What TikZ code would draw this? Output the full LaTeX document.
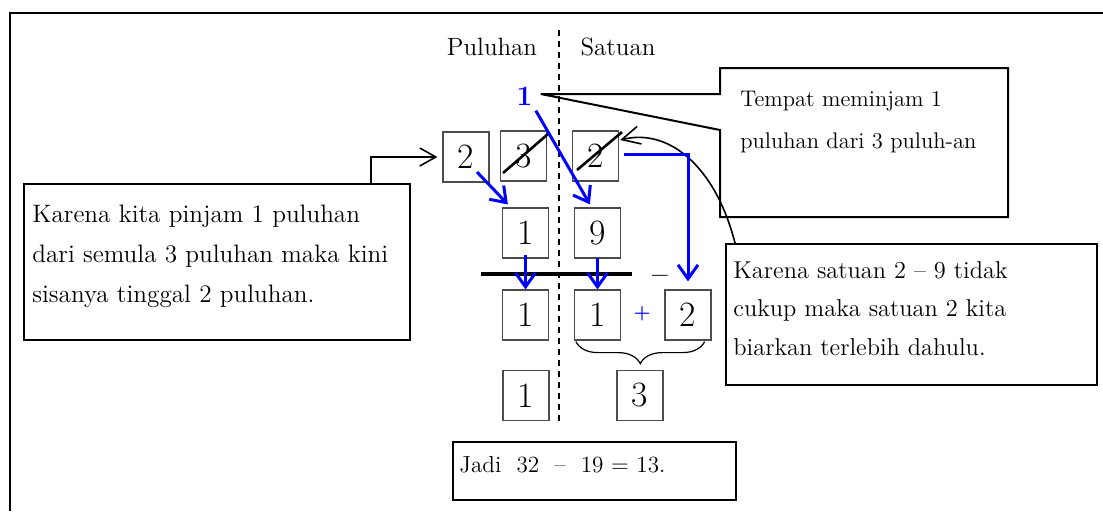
\documentclass[tikz,border=0pt]{standalone}
\usepackage{fontspec}
\usetikzlibrary{arrows.meta,calc,decorations.pathreplacing}

\tikzset{
  digit/.style={draw=black!70,line width=0.6pt,minimum width=23pt,minimum height=25pt,
    inner sep=0pt,font=\fontsize{17.8}{20}\selectfont},
  note/.style={draw,line width=1pt,inner sep=0pt,anchor=north west},
  notetext/.style={anchor=north west,inner sep=0pt,align=left},
  move/.style={blue,line width=1.5pt,-{Straight Barb[length=7pt,width=10pt]}},
  link/.style={line width=0.8pt,-{Straight Barb[length=8pt,width=9pt]}},
  strike/.style={line width=1.3pt},
}

\begin{document}
\begin{tikzpicture}[x=0.5pt,y=-0.5pt]
  \useasboundingbox (0,0) rectangle (1103,511);

  % frame
  \draw[line width=1pt] (9.5,511) -- (9.5,13) -- (1103,13);

  % column heads and divider
  \node[anchor=base,font=\fontsize{12.5}{15}\selectfont] (puluhan) at (492,55) {Puluhan};
  \node[anchor=base,font=\fontsize{12.5}{15}\selectfont] (satuan)  at (618,55) {Satuan};
  \coordinate (divTop) at (559,30);
  \coordinate (divBot) at (559,424);
  \draw[line width=0.6pt,dash pattern=on 3pt off 2.5pt] (divTop) -- (divBot);

  % digits
  \node[digit] (topP2) at (466,157)   {2};
  \node[digit] (topP3) at (523.5,156) {3};
  \node[digit] (topS2) at (595.5,156) {2};
  \node[digit] (midP1) at (525.5,233) {1};
  \node[digit] (midS9) at (597.5,233) {9};
  \node[digit] (resP1) at (525.5,315) {1};
  \node[digit] (resS1) at (597.5,315) {1};
  \node[digit] (resS2) at (688,315)   {2};
  \node[digit] (endP1) at (526,395.5) {1};
  \node[digit] (endS3) at (640,395.5) {3};

  \draw[strike] ([shift={(-20.5,17)}]topP3.center) -- ([shift={(24.5,-22)}]topP3.center);
  \draw[strike] ([shift={(-18.5,14)}]topS2.center) -- ([shift={(26.5,-24)}]topS2.center);

  \node[text=blue,inner sep=0pt,font=\fontsize{14}{16}\selectfont\bfseries] (pinjam) at (524.5,96) {1};
  \node[text=blue,inner sep=0pt,font=\fontsize{9.5}{11}\selectfont\bfseries] (plus) at (642,314) {+};

  % subtraction rule
  \draw[line width=2pt] (481,274) -- (632,274);
  \node[anchor=base,inner sep=0pt,font=\fontsize{14}{16}\selectfont\bfseries] (minus) at (660,283) {–};

  \draw[line width=0.6pt,decorate,decoration={brace,mirror,amplitude=11pt}]
    ([shift={(2,1)}]resS1.south west) -- ([shift={(-7,1)}]resS2.south east);

  % notes
  \node[note,minimum width=193pt,minimum height=78pt] (boxLeft) at (23,183) {};
  \node[notetext,font=\fontsize{12.6}{20}\selectfont] (txtLeft) at (32,204.5)
    {Karena kita pinjam 1 puluhan\\dari semula 3 puluhan maka kini\\sisanya tinggal 2 puluhan.};

  \node[note,minimum width=185.5pt,minimum height=70.5pt] (boxRight) at (725,243) {};
  \node[notetext,font=\fontsize{12.2}{19.25}\selectfont] (txtRight) at (733,261)
    {Karena satuan 2 – 9 tidak\\cukup maka satuan 2 kita\\biarkan terlebih dahulu.};

  \coordinate (tipTempat) at ([shift={(8,-2)}]pinjam.east);
  \draw[line width=1pt] (720,94) -- (720,68) -- (1008,68) -- (1008,217) -- (720,217)
    -- (720,130) -- (tipTempat) -- cycle;
  \node[notetext,font=\fontsize{11.3}{21}\selectfont] (txtTempat) at (740,90.6)
    {Tempat meminjam 1\\puluhan dari 3 puluh-an};

  \node[note,minimum width=141.5pt,minimum height=29pt] (boxJadi) at (452,441) {};
  \node[anchor=base west,inner sep=0pt,font=\fontsize{11.6}{14}\selectfont] (txtJadi) at (459,472)
    {Jadi\ \ 32\ \ –\ \ 19 = 13.};

  % connectors
  \draw[link] ([shift={(-40,0)}]boxLeft.north east) |- ([shift={(-5,0)}]topP2.west);
  \draw[line width=0.8pt,-{Straight Barb[length=9pt,width=9pt]}]
    ([shift={(10,0)}]boxRight.north west) .. controls (715,165) and (668,128) .. ([shift={(1,-16)}]topS2.east);

  \draw[move] ([shift={(11,15)}]topP2.center) -- ([shift={(6,-3)}]midP1.north west);
  \draw[move] ([shift={(3,5)}]pinjam.south east) -- ([shift={(16,-3)}]midS9.north west);
  \draw[move] ([shift={(0,-4)}]midP1.south) -- (resP1.north);
  \draw[move] ([shift={(0,-1)}]midS9.south) -- (resS1.north);
  \draw[move] ([shift={(5,-2)}]topS2.east) -| ([shift={(0,-8)}]resS2.north);
\end{tikzpicture}
\end{document}
